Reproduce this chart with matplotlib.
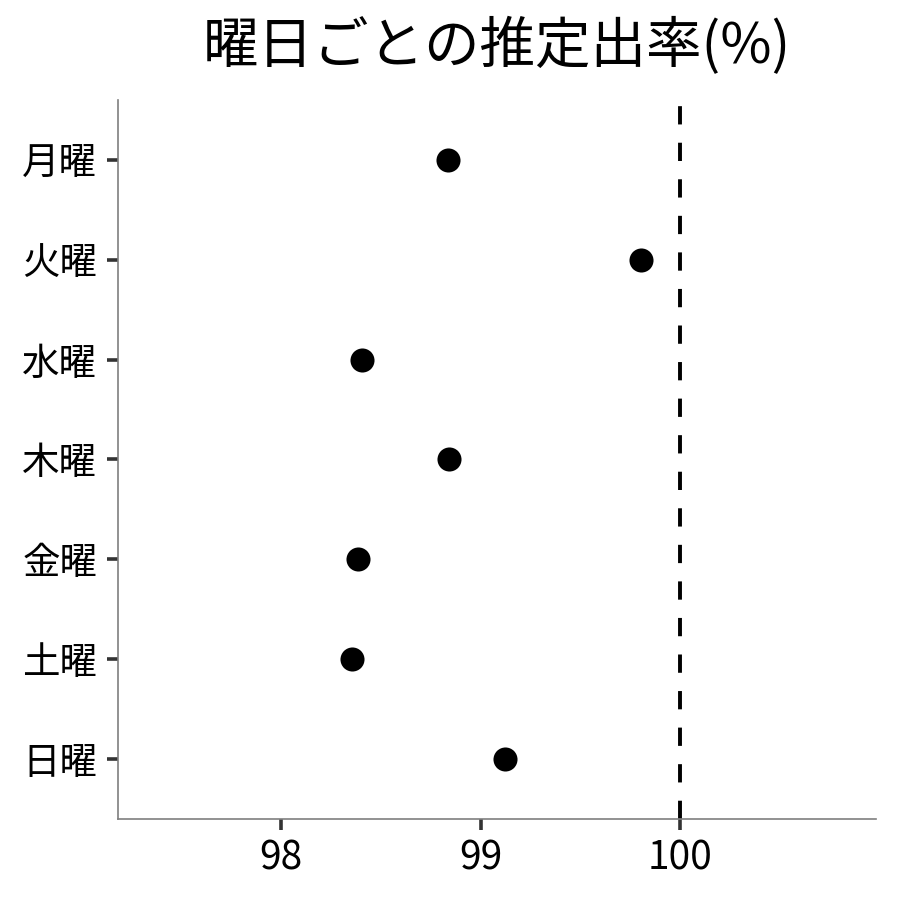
import matplotlib
matplotlib.use("Agg")
import matplotlib.pyplot as plt

plt.rcParams['font.family'] = ['Noto Sans CJK JP', 'DejaVu Sans']

days = ['月曜', '火曜', '水曜', '木曜', '金曜', '土曜', '日曜']
rates = [98.835, 99.805, 98.405, 98.84, 98.385, 98.355, 99.125]
xticks = [98, 99, 100]
ref_value = 100
title = '曜日ごとの推定出率(%)'

fig = plt.figure(figsize=(9, 9), dpi=100)
ax = fig.add_axes([0.1311, 0.09, 0.8422, 0.7989])

ypos = list(range(len(days), 0, -1))
ax.scatter(rates, ypos, s=300, color='black', zorder=3, linewidths=0)
ax.axvline(ref_value, color='black', lw=2.8, linestyle=(0, (4.7, 4.7)), zorder=2)

ax.set_xlim(97.185, 100.98)
ax.set_ylim(0.4, 7.6)
ax.set_xticks(xticks)
ax.set_xticklabels([str(t) for t in xticks])
ax.set_yticks(ypos)
ax.set_yticklabels(days)

for s in ['top', 'right']:
    ax.spines[s].set_visible(False)
for s in ['left', 'bottom']:
    ax.spines[s].set_color('#7f7f7f')
    ax.spines[s].set_linewidth(1.2)

ax.tick_params(axis='both', length=8, width=2.6, color='#333333', labelcolor='black')
ax.tick_params(axis='x', labelsize=28, pad=6)
ax.tick_params(axis='y', labelsize=27, pad=7)

fig.text(0.552, 0.948, title, ha='center', va='center', fontsize=40)

fig.savefig('out.png', dpi=100)
